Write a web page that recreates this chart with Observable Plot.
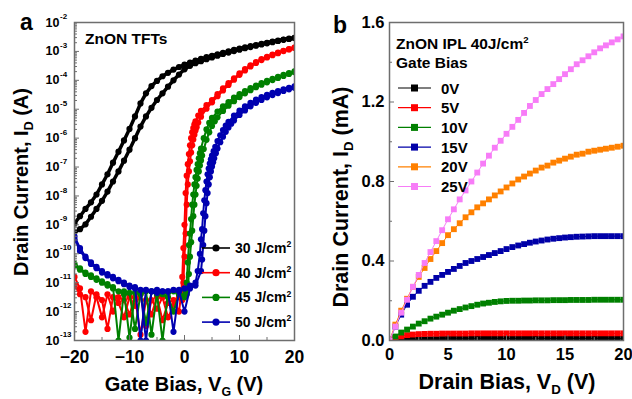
<!DOCTYPE html>
<html><head><meta charset="utf-8">
<script src="https://cdn.jsdelivr.net/npm/d3@7"></script>
<script src="https://cdn.jsdelivr.net/npm/@observablehq/plot@0.6"></script>
<style>
body{margin:0;background:#fff;}
#wrap{position:relative;width:632px;height:399px;overflow:hidden;background:#fff;}
#wrap svg{position:absolute;top:0;overflow:visible;}
</style></head><body><div id="wrap"></div>
<script>
const FONT = '"Liberation Sans", Arial, Helvetica, sans-serif';

// ================= Panel a: transfer curves, log10(I_D / A), two sweeps per dose =================
const doses = [30, 40, 45, 50]; // J/cm^2
const vgBlack = [-20,-19,-18,-17,-16,-15,-14,-13,-12,-11,-10,-9,-8,-7,-6,-5,-4,-3,-2,-1,0,1,2,3,4,5,6,7,8,9,10,11,12,13,14,15,16,17,18,19,20];
const logIdBlack1 = [-8.95,-8.7,-8.45,-8.22,-7.95,-7.6,-7.25,-6.85,-6.47,-6.08,-5.68,-5.25,-4.8,-4.45,-4.2,-4.02,-3.86,-3.74,-3.63,-3.54,-3.46,-3.39,-3.32,-3.26,-3.2,-3.15,-3.1,-3.05,-3.0,-2.95,-2.9,-2.86,-2.82,-2.78,-2.74,-2.7,-2.66,-2.63,-2.59,-2.56,-2.53];
const logIdBlack2 = [-9.25,-9.15,-8.98,-8.72,-8.45,-8.17,-7.85,-7.5,-7.15,-6.78,-6.4,-6.0,-5.6,-5.25,-4.95,-4.68,-4.45,-4.22,-4.0,-3.8,-3.62,-3.5,-3.41,-3.34,-3.27,-3.21,-3.15,-3.09,-3.04,-2.99,-2.94,-2.89,-2.85,-2.8,-2.76,-2.72,-2.68,-2.64,-2.6,-2.57,-2.54];

const vgRed1 = [-20,-19,-18,-17,-16,-15,-14,-13,-12,-11,-10,-9,-8,-7,-6,-5,-4,-3,-2,-1,-0.6,-0.4,-0.2,0,0.2,0.4,0.6,0.8,1,1.2,1.4,1.6,1.8,2,2.5,3,4,5,6,7,8,9,10,11,12,13,14,15,16,17,18,19,20];
const logIdRed1 = [-10.8,-11.2,-12.7,-11.3,-11.5,-12.2,-11.4,-12.0,-11.5,-11.6,-12.1,-11.5,-12.8,-11.6,-12.1,-11.5,-12.3,-11.7,-11.6,-12.0,-11.4,-10.8,-9.8,-9.0,-7.9,-7.3,-6.9,-6.55,-6.25,-6.0,-5.8,-5.65,-5.52,-5.42,-5.22,-5.06,-4.86,-4.68,-4.48,-4.28,-4.1,-3.93,-3.76,-3.61,-3.48,-3.37,-3.27,-3.19,-3.11,-3.04,-2.98,-2.92,-2.87];
const vgRed2 = [-20,-19,-18,-17,-16,-15,-14,-13,-12,-11,-10,-9,-8,-7,-6,-5,-4,-3,-2,-1,-0.4,-0.2,0,0.2,0.4,0.6,0.8,1,1.2,1.4,1.6,1.8,2,2.2,2.5,3,4,5,6,7,8,9,10,11,12,13,14,15,16,17,18,19,20];
const logIdRed2 = [-11.1,-11.4,-11.5,-12.3,-11.4,-11.6,-12.6,-11.5,-11.7,-12.2,-11.5,-11.8,-11.4,-12.5,-11.6,-11.9,-11.5,-12.2,-11.8,-11.5,-11.6,-11.0,-10.1,-9.3,-8.3,-7.6,-7.15,-6.8,-6.5,-6.25,-6.05,-5.88,-5.74,-5.62,-5.46,-5.26,-4.98,-4.76,-4.55,-4.35,-4.16,-3.98,-3.81,-3.66,-3.52,-3.4,-3.3,-3.21,-3.13,-3.06,-2.99,-2.93,-2.88];

const vgGreen1 = [-20,-19,-18,-17,-16,-15,-14,-13,-12,-11,-10,-9,-8,-7,-6,-5,-4,-3,-2,-1,0,0.2,0.4,0.6,0.8,1,1.2,1.4,1.6,1.8,2,2.2,2.4,2.6,2.8,3,3.5,4,4.5,5,6,7,8,9,10,11,12,13,14,15,16,17,18,19,20];
const logIdGreen1 = [-10.35,-10.5,-10.65,-10.75,-10.85,-10.95,-11.05,-11.15,-13.0,-11.3,-12.9,-11.35,-11.3,-12.4,-11.3,-11.4,-13.0,-11.35,-11.3,-11.4,-11.5,-11.3,-11.0,-10.3,-9.7,-9.3,-8.8,-8.3,-7.95,-7.6,-7.35,-7.1,-6.9,-6.7,-6.52,-6.36,-6.0,-5.7,-5.47,-5.3,-5.08,-4.9,-4.75,-4.6,-4.48,-4.37,-4.27,-4.18,-4.1,-4.02,-3.95,-3.88,-3.81,-3.75,-3.69];
const vgGreen2 = [-20,-19,-18,-17,-16,-15,-14,-13,-12,-11,-10,-9,-8,-7,-6,-5,-4,-3,-2,-1,0,0.4,0.6,0.8,1,1.2,1.4,1.6,1.8,2,2.2,2.4,2.6,2.8,3,3.2,3.5,4,4.5,5,5.5,6,7,8,9,10,11,12,13,14,15,16,17,18,19,20];
const logIdGreen2 = [-10.4,-10.55,-10.7,-10.8,-10.9,-11.0,-11.1,-11.2,-11.3,-11.4,-11.35,-12.6,-11.4,-11.3,-12.8,-11.35,-11.4,-11.5,-12.0,-11.4,-11.45,-11.4,-11.2,-10.7,-10.1,-9.6,-9.2,-8.7,-8.3,-7.95,-7.65,-7.4,-7.15,-6.95,-6.77,-6.6,-6.38,-6.06,-5.8,-5.58,-5.42,-5.28,-5.06,-4.88,-4.72,-4.58,-4.45,-4.34,-4.24,-4.15,-4.07,-3.99,-3.92,-3.85,-3.78,-3.72];

const vgBlue1 = [-20,-19,-18,-17,-16,-15,-14,-13,-12,-11,-10,-9,-8,-7,-6,-5,-4,-3,-2,-1,0,1,2,2.4,2.8,3,3.2,3.4,3.6,3.8,4,4.2,4.4,4.6,4.8,5,5.3,5.6,6,6.5,7,7.5,8,9,10,11,12,13,14,15,16,17,18,19,20];
const logIdBlue1 = [-9.4,-9.8,-10.1,-10.3,-10.45,-10.6,-10.7,-10.8,-10.9,-11.0,-11.1,-11.15,-13.0,-11.25,-11.3,-11.25,-11.3,-11.3,-12.7,-11.25,-11.2,-11.1,-11.0,-10.6,-10.0,-9.5,-9.15,-8.6,-8.15,-7.8,-7.5,-7.25,-7.05,-6.88,-6.73,-6.6,-6.45,-6.3,-6.1,-5.9,-5.72,-5.57,-5.44,-5.22,-5.05,-4.9,-4.78,-4.67,-4.58,-4.5,-4.43,-4.37,-4.31,-4.26,-4.21];
const vgBlue2 = [-20,-19,-18,-17,-16,-15,-14,-13,-12,-11,-10,-9,-8,-7,-6,-5,-4,-3,-2,-1,0,1,2,3,3.2,3.4,3.6,3.8,4,4.2,4.4,4.6,4.8,5,5.2,5.4,5.7,6,6.5,7,7.5,8,8.5,9,10,11,12,13,14,15,16,17,18,19,20];
const logIdBlue2 = [-9.5,-9.9,-10.15,-10.35,-10.5,-10.65,-10.75,-10.85,-10.95,-11.05,-11.15,-11.2,-11.25,-13.0,-11.3,-11.35,-11.3,-11.3,-11.25,-11.3,-12.0,-11.2,-11.1,-10.6,-10.2,-9.7,-9.2,-8.7,-8.25,-7.9,-7.6,-7.35,-7.15,-6.98,-6.83,-6.7,-6.52,-6.36,-6.14,-5.95,-5.78,-5.63,-5.5,-5.39,-5.2,-5.04,-4.9,-4.78,-4.68,-4.59,-4.51,-4.44,-4.37,-4.31,-4.26];

const xTicksA = [-20, -10, 0, 10, 20];
const xMinorA = [-15, -5, 5, 15];
const yExpA = [-13, -12, -11, -10, -9, -8, -7, -6, -5, -4, -3, -2];

// ================= Panel b: output curves, I_D (mA) vs V_D (V) =================
const gateBiases = [0, 5, 10, 15, 20, 25]; // V
const vd = [0,0.5,1,1.5,2,2.5,3,3.5,4,4.5,5,5.5,6,6.5,7,7.5,8,8.5,9,9.5,10,10.5,11,11.5,12,12.5,13,13.5,14,14.5,15,15.5,16,16.5,17,17.5,18,18.5,19,19.5,20];
const id0V  = [0,0.001,0.002,0.003,0.004,0.005,0.006,0.0065,0.007,0.0075,0.008,0.008,0.0082,0.0084,0.0085,0.0086,0.0087,0.0088,0.0088,0.0089,0.009,0.009,0.009,0.009,0.009,0.009,0.009,0.009,0.009,0.009,0.009,0.009,0.009,0.009,0.009,0.009,0.009,0.009,0.009,0.009,0.009];
const id5V  = [0,0.012,0.021,0.027,0.03,0.032,0.033,0.034,0.034,0.035,0.035,0.035,0.035,0.035,0.036,0.036,0.036,0.036,0.036,0.036,0.036,0.036,0.036,0.036,0.036,0.036,0.036,0.036,0.036,0.036,0.036,0.036,0.036,0.036,0.036,0.036,0.036,0.036,0.036,0.036,0.036];
const id10V = [0,0.02,0.04,0.055,0.07,0.085,0.097,0.11,0.12,0.13,0.14,0.15,0.158,0.166,0.173,0.18,0.186,0.19,0.194,0.197,0.199,0.2,0.2,0.201,0.201,0.202,0.202,0.202,0.203,0.203,0.203,0.204,0.204,0.204,0.204,0.205,0.205,0.205,0.205,0.205,0.205];
const id15V = [0,0.07,0.13,0.18,0.22,0.25,0.275,0.295,0.315,0.33,0.345,0.36,0.375,0.39,0.4,0.41,0.42,0.43,0.44,0.45,0.46,0.47,0.478,0.485,0.492,0.498,0.503,0.508,0.512,0.515,0.518,0.52,0.522,0.523,0.524,0.525,0.525,0.525,0.525,0.525,0.525];
const id20V = [0,0.08,0.15,0.21,0.27,0.32,0.365,0.41,0.45,0.49,0.53,0.56,0.59,0.62,0.645,0.67,0.69,0.71,0.73,0.75,0.77,0.79,0.81,0.825,0.84,0.855,0.87,0.88,0.895,0.905,0.915,0.925,0.935,0.94,0.95,0.955,0.96,0.965,0.97,0.975,0.98];
const id25V = [0,0.07,0.14,0.205,0.27,0.33,0.39,0.445,0.5,0.555,0.61,0.66,0.71,0.755,0.8,0.845,0.89,0.93,0.97,1.005,1.04,1.075,1.11,1.145,1.18,1.21,1.24,1.265,1.29,1.315,1.34,1.365,1.39,1.41,1.43,1.45,1.47,1.485,1.5,1.515,1.53];

const xTicksB = [0, 5, 10, 15, 20];
const xMinorB = [2.5, 7.5, 12.5, 17.5];
const yTicksB = [0, 0.4, 0.8, 1.2, 1.6];
const yMinorB = [0.2, 0.6, 1.0, 1.4];

// ---------- styles ----------
const colorsA = ["#000000", "#ff0000", "#008000", "#0000b0"];
const lineWidthsA = [3.5, 2, 2, 2];
const colorsB = ["#000000", "#ff0000", "#008000", "#0000a8", "#ff8000", "#f77cf7"];
const FRAME = "#6e6e6e";

// ---------- tables ----------
const sweepsA = [
  [[vgBlack, logIdBlack1], [vgBlack, logIdBlack2]],
  [[vgRed1, logIdRed1], [vgRed2, logIdRed2]],
  [[vgGreen1, logIdGreen1], [vgGreen2, logIdGreen2]],
  [[vgBlue1, logIdBlue1], [vgBlue2, logIdBlue2]]
];
const rowsA = sweepsA.map((sw, si) => sw.flatMap(([vg, li], k) =>
  vg.map((v, i) => ({s: si, key: k, vg: v, id: Math.pow(10, li[i])}))));

const seriesB = [id0V, id5V, id10V, id15V, id20V, id25V];
const rowsB = seriesB.map((arr, si) => vd.map((v, i) => ({s: si, vd: v, id: arr[i]})));

const minorLogA = yExpA.slice(0, -1).flatMap(e => [2,3,4,5,6,7,8,9].map(k => k * Math.pow(10, e)));

// ---------- helpers ----------
function rich(svg, x, y, parts, {size = 16, anchor = "start", rotate = 0, fill = "#000"} = {}) {
  const t = d3.select(svg).append("text")
    .attr("transform", `translate(${x},${y})` + (rotate ? ` rotate(${rotate})` : ""))
    .attr("text-anchor", anchor).attr("font-family", FONT).attr("font-weight", "bold")
    .attr("font-size", size).attr("fill", fill);
  let cur = 0;
  for (const p of parts) {
    const shift = p.sub ? 0.25 * size : p.sup ? -0.42 * size : 0;
    const s = t.append("tspan").text(p.t).attr("dy", shift - cur);
    if (p.sub || p.sup) s.attr("font-size", size * 0.62);
    cur = shift;
  }
  return t;
}

const wrap = document.getElementById("wrap");

// ================= Plot a =================
const plotA = Plot.plot({
  width: 316, height: 399,
  marginLeft: 74, marginRight: 22, marginTop: 22, marginBottom: 59,
  style: {fontFamily: FONT, fontWeight: "bold", background: "transparent", color: "#000"},
  x: {domain: [-20, 20], label: null},
  y: {type: "log", domain: [1e-13, 1e-2], label: null},
  marks: [
    ...rowsA.flatMap((rows, si) => [
      Plot.line(rows, {x: "vg", y: "id", z: "key", stroke: colorsA[si], strokeWidth: lineWidthsA[si], clip: true}),
      Plot.dot(rows, {x: "vg", y: "id", fill: colorsA[si], r: 3.1, clip: true})
    ]),
    Plot.frame({stroke: FRAME, strokeWidth: 1.5}),
    Plot.axisX({ticks: xTicksA, tickSize: 5, dy: -5, tickFormat: () => "", stroke: FRAME}),
    Plot.axisX({ticks: xMinorA, tickSize: 3, dy: -3, tickFormat: () => "", stroke: FRAME}),
    Plot.axisX({ticks: xTicksA, tickSize: 0, tickPadding: 10, fontSize: 17.5}),
    Plot.axisY({ticks: yExpA.map(e => Math.pow(10, e)), tickSize: 5, dx: 5, tickFormat: () => "", stroke: FRAME}),
    Plot.axisY({ticks: minorLogA, tickSize: 3, dx: 3, tickFormat: () => "", stroke: FRAME}),
    Plot.text(yExpA, {y: e => Math.pow(10, e), text: () => "10", frameAnchor: "left", textAnchor: "end", dx: -15, fontSize: 12.5}),
    Plot.text(yExpA, {y: e => Math.pow(10, e), text: e => String(e), frameAnchor: "left", textAnchor: "start", dx: -14.5, dy: -6, fontSize: 8})
  ]
});
plotA.style.left = "0px";
wrap.appendChild(plotA);

// labels a
rich(plotA, 20, 30, [{t: "a"}], {size: 23});
rich(plotA, 85, 44, [{t: "ZnON TFTs"}], {size: 15.5});
rich(plotA, 184, 391, [{t: "Gate Bias, V"}, {t: "G", sub: true}, {t: " (V)"}], {size: 20, anchor: "middle"});
rich(plotA, 28, 182, [{t: "Drain Current, I"}, {t: "D", sub: true}, {t: " (A)"}], {size: 20, anchor: "middle", rotate: -90});
{
  const g = d3.select(plotA).append("g");
  doses.forEach((d, i) => {
    const cy = 248 + i * 24.7;
    g.append("line").attr("x1", 202).attr("x2", 230).attr("y1", cy).attr("y2", cy).attr("stroke", colorsA[i]).attr("stroke-width", 1.6);
    g.append("circle").attr("cx", 216).attr("cy", cy).attr("r", 3.6).attr("fill", colorsA[i]);
    rich(plotA, 235, cy + 5, [{t: `${d} J/cm`}, {t: "2", sup: true}], {size: 14});
  });
}

// ================= Plot b =================
const plotB = Plot.plot({
  width: 316, height: 399,
  marginLeft: 73, marginRight: 9, marginTop: 22, marginBottom: 59,
  style: {fontFamily: FONT, fontWeight: "bold", background: "transparent", color: "#000"},
  x: {domain: [0, 20], label: null},
  y: {domain: [0, 1.6], label: null},
  marks: [
    ...rowsB.flatMap((rows, si) => [
      Plot.line(rows, {x: "vd", y: "id", stroke: colorsB[si], strokeWidth: 1, clip: true}),
      Plot.dot(rows, {x: "vd", y: "id", fill: colorsB[si], symbol: "square", r: 3.3, clip: true})
    ]),
    Plot.frame({stroke: FRAME, strokeWidth: 1.5}),
    Plot.axisX({ticks: xTicksB, tickSize: 5, dy: -5, tickFormat: () => "", stroke: FRAME}),
    Plot.axisX({ticks: xMinorB, tickSize: 3, dy: -3, tickFormat: () => "", stroke: FRAME}),
    Plot.axisX({ticks: xTicksB, tickSize: 0, tickPadding: 8, fontSize: 16.5}),
    Plot.axisY({ticks: yTicksB, tickSize: 5, dx: 5, tickFormat: () => "", stroke: FRAME}),
    Plot.axisY({ticks: yMinorB, tickSize: 3, dx: 3, tickFormat: () => "", stroke: FRAME}),
    Plot.axisY({ticks: yTicksB, tickSize: 0, tickPadding: 5, tickFormat: d3.format(".1f"), fontSize: 16.5})
  ]
});
plotB.style.left = "316px";
wrap.appendChild(plotB);

rich(plotB, 17, 33, [{t: "b"}], {size: 23});
rich(plotB, 80, 49, [{t: "ZnON IPL 40J/cm"}, {t: "2", sup: true}], {size: 15.5});
rich(plotB, 80, 68, [{t: "Gate Bias"}], {size: 15.5});
rich(plotB, 191, 389, [{t: "Drain Bias, V"}, {t: "D", sub: true}, {t: " (V)"}], {size: 21.5, anchor: "middle"});
rich(plotB, 32, 197, [{t: "Drain Current, I"}, {t: "D", sub: true}, {t: " (mA)"}], {size: 21.5, anchor: "middle", rotate: -90});
{
  const g = d3.select(plotB).append("g");
  gateBiases.forEach((v, i) => {
    const cy = 88 + i * 19.7;
    g.append("line").attr("x1", 82).attr("x2", 115).attr("y1", cy).attr("y2", cy).attr("stroke", colorsB[i]).attr("stroke-width", 1.2);
    g.append("rect").attr("x", 98.5 - 3.5).attr("y", cy - 3.5).attr("width", 7).attr("height", 7).attr("fill", colorsB[i]);
    rich(plotB, 125, cy + 5.5, [{t: `${v}V`}], {size: 15});
  });
}
</script></body></html>
